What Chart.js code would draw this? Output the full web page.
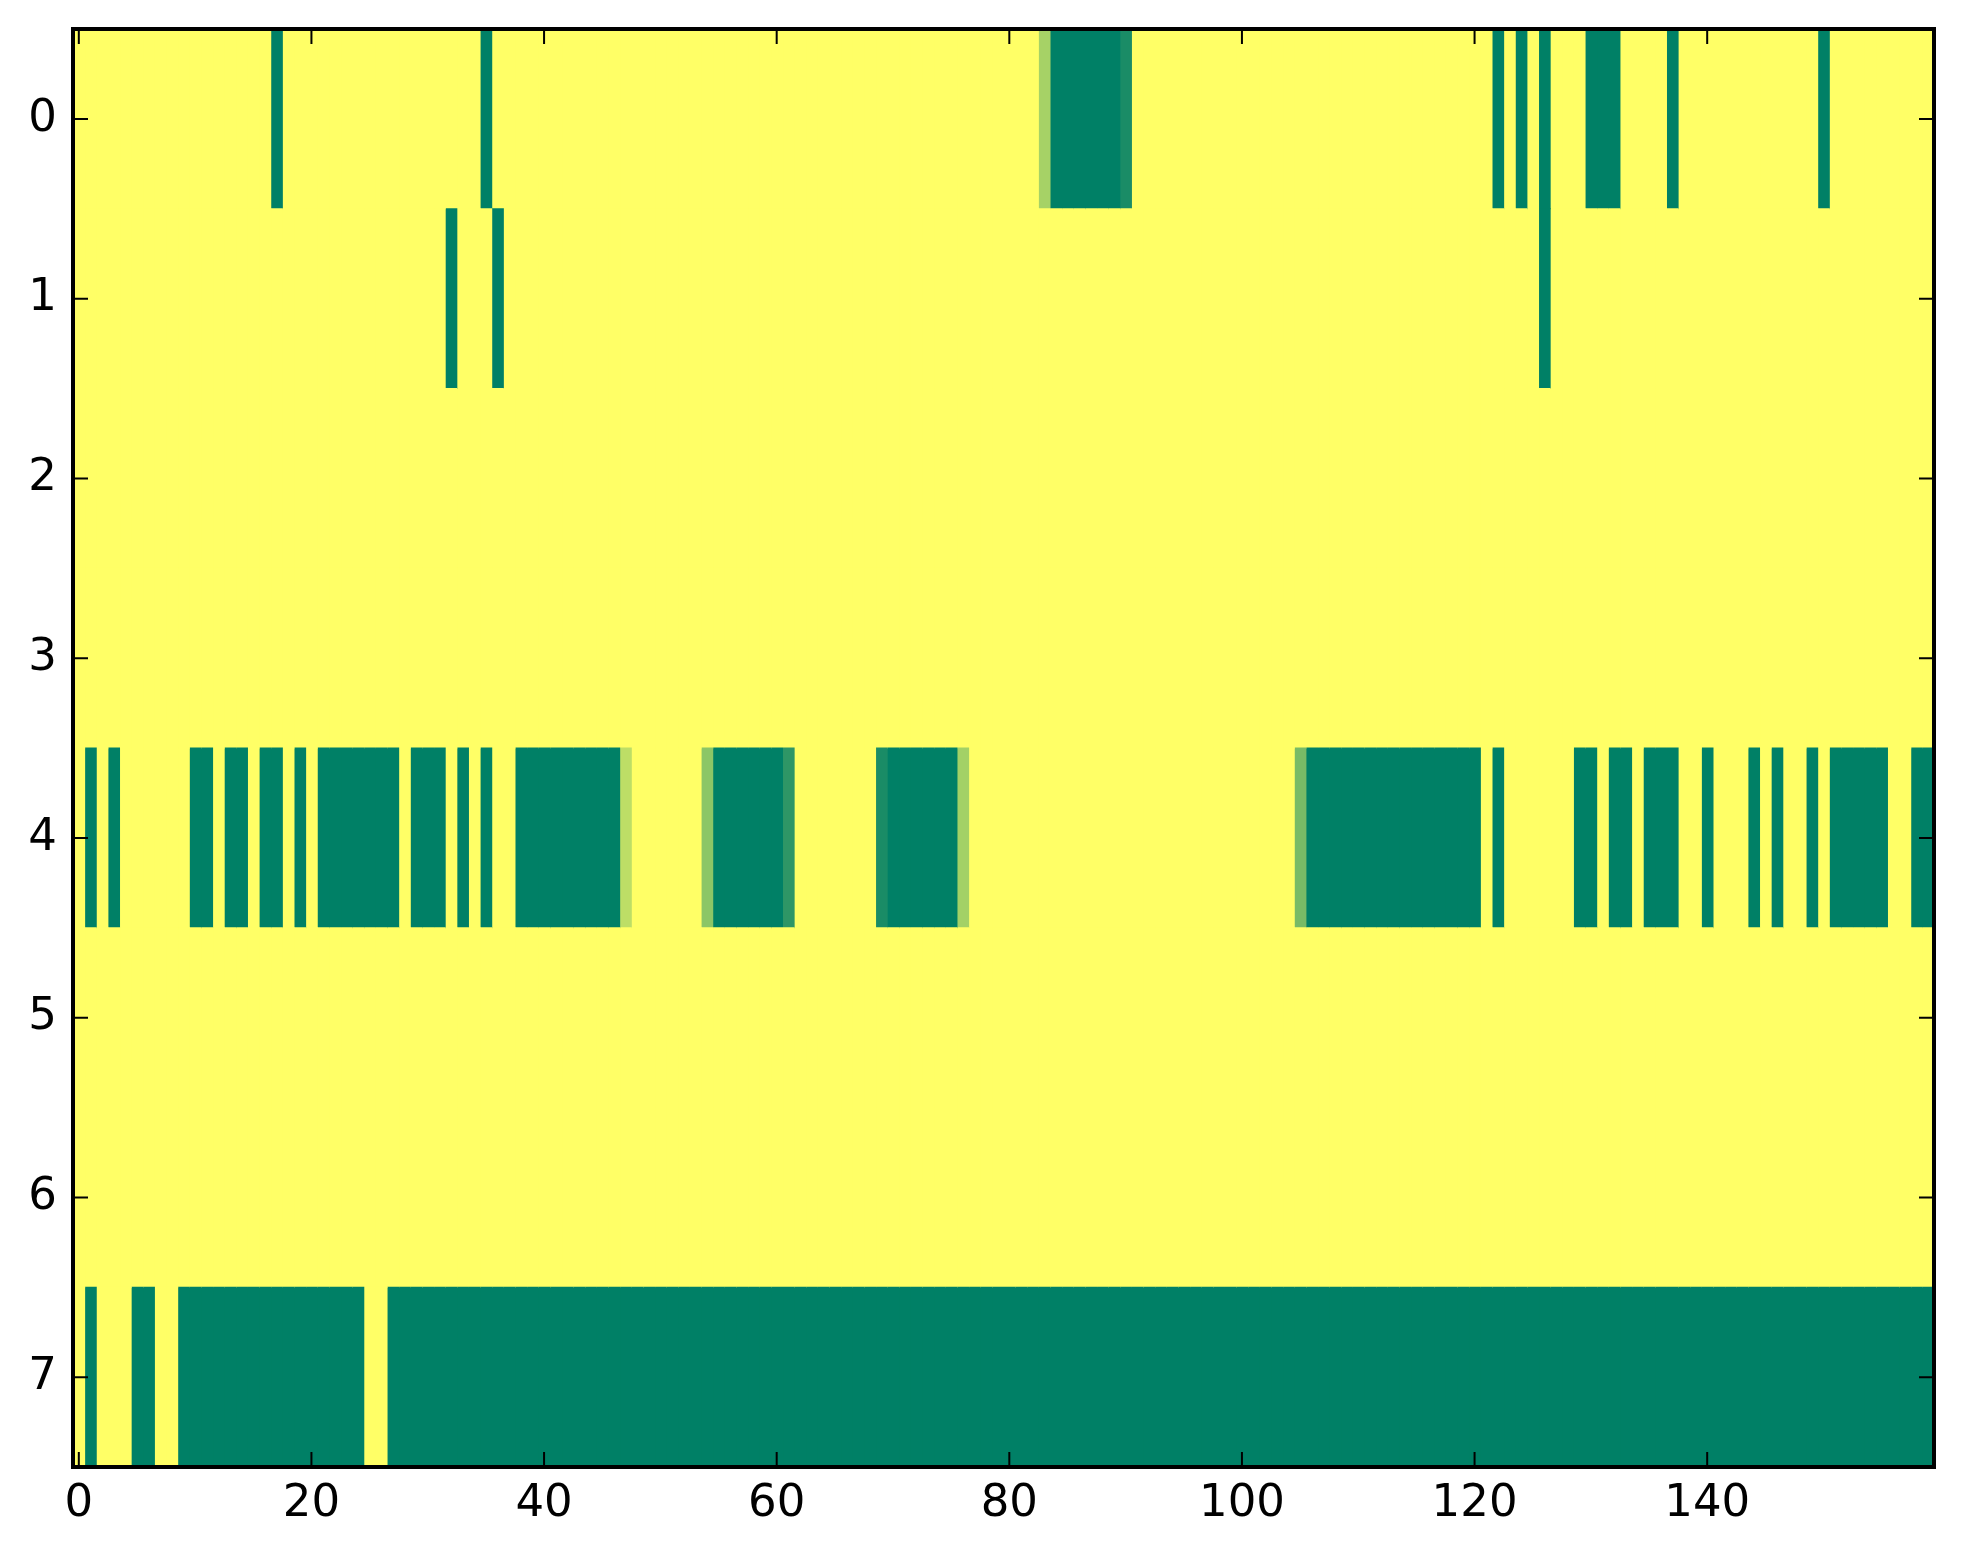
<!DOCTYPE html>
<html lang="en">
<head>
    <meta charset="UTF-8">
    <title>Heatmap</title>
    <script src="https://cdn.jsdelivr.net/npm/chart.js"></script>
    <style>
        body { margin: 0; background: #fff; }
        #wrap { width: 1963px; height: 1564px; }
    </style>
</head>
<body>
    <div id="wrap"><canvas id="heatmap"></canvas></div>

    <script>
        // Cell values, 8 rows x 160 columns (0 = green, 1 = yellow)
        const row0 = [
            1,1,1,1,1,1,1,1,1,1,1,1,1,1,1,1,1,0,1,1,
            1,1,1,1,1,1,1,1,1,1,1,1,1,1,1,0,1,1,1,1,
            1,1,1,1,1,1,1,1,1,1,1,1,1,1,1,1,1,1,1,1,
            1,1,1,1,1,1,1,1,1,1,1,1,1,1,1,1,1,1,1,1,
            1,1,1,0.65,0,0,0,0,0,0,0.1,1,1,1,1,1,1,1,1,1,
            1,1,1,1,1,1,1,1,1,1,1,1,1,1,1,1,1,1,1,1,
            1,1,0,1,0,1,0,1,1,1,0,0,0,1,1,1,1,0,1,1,
            1,1,1,1,1,1,1,1,1,1,0,1,1,1,1,1,1,1,1,1
        ];
        const row1 = [
            1,1,1,1,1,1,1,1,1,1,1,1,1,1,1,1,1,1,1,1,
            1,1,1,1,1,1,1,1,1,1,1,1,0,1,1,1,0,1,1,1,
            1,1,1,1,1,1,1,1,1,1,1,1,1,1,1,1,1,1,1,1,
            1,1,1,1,1,1,1,1,1,1,1,1,1,1,1,1,1,1,1,1,
            1,1,1,1,1,1,1,1,1,1,1,1,1,1,1,1,1,1,1,1,
            1,1,1,1,1,1,1,1,1,1,1,1,1,1,1,1,1,1,1,1,
            1,1,1,1,1,1,0,1,1,1,1,1,1,1,1,1,1,1,1,1,
            1,1,1,1,1,1,1,1,1,1,1,1,1,1,1,1,1,1,1,1
        ];
        const row2 = [
            1,1,1,1,1,1,1,1,1,1,1,1,1,1,1,1,1,1,1,1,
            1,1,1,1,1,1,1,1,1,1,1,1,1,1,1,1,1,1,1,1,
            1,1,1,1,1,1,1,1,1,1,1,1,1,1,1,1,1,1,1,1,
            1,1,1,1,1,1,1,1,1,1,1,1,1,1,1,1,1,1,1,1,
            1,1,1,1,1,1,1,1,1,1,1,1,1,1,1,1,1,1,1,1,
            1,1,1,1,1,1,1,1,1,1,1,1,1,1,1,1,1,1,1,1,
            1,1,1,1,1,1,1,1,1,1,1,1,1,1,1,1,1,1,1,1,
            1,1,1,1,1,1,1,1,1,1,1,1,1,1,1,1,1,1,1,1
        ];
        const row3 = [
            1,1,1,1,1,1,1,1,1,1,1,1,1,1,1,1,1,1,1,1,
            1,1,1,1,1,1,1,1,1,1,1,1,1,1,1,1,1,1,1,1,
            1,1,1,1,1,1,1,1,1,1,1,1,1,1,1,1,1,1,1,1,
            1,1,1,1,1,1,1,1,1,1,1,1,1,1,1,1,1,1,1,1,
            1,1,1,1,1,1,1,1,1,1,1,1,1,1,1,1,1,1,1,1,
            1,1,1,1,1,1,1,1,1,1,1,1,1,1,1,1,1,1,1,1,
            1,1,1,1,1,1,1,1,1,1,1,1,1,1,1,1,1,1,1,1,
            1,1,1,1,1,1,1,1,1,1,1,1,1,1,1,1,1,1,1,1
        ];
        const row4 = [
            1,0,1,0,1,1,1,1,1,1,0,0,1,0,0,1,0,0,1,0,
            1,0,0,0,0,0,0,0,1,0,0,0,1,0,1,0,1,1,0,0,
            0,0,0,0,0,0,0,0.74,1,1,1,1,1,1,0.55,0,0,0,0,0,
            0,0.18,1,1,1,1,1,1,1,0.1,0,0,0,0,0,0,0.64,1,1,1,
            1,1,1,1,1,1,1,1,1,1,1,1,1,1,1,1,1,1,1,1,
            1,1,1,1,1,0.47,0,0,0,0,0,0,0,0,0,0,0,0,0,0,
            0,1,0,1,1,1,1,1,1,0,0,1,0,0,1,0,0,0,1,1,
            0,1,1,1,0,1,0,1,1,0,1,0,0,0,0,0,1,1,0,0
        ];
        const row5 = [
            1,1,1,1,1,1,1,1,1,1,1,1,1,1,1,1,1,1,1,1,
            1,1,1,1,1,1,1,1,1,1,1,1,1,1,1,1,1,1,1,1,
            1,1,1,1,1,1,1,1,1,1,1,1,1,1,1,1,1,1,1,1,
            1,1,1,1,1,1,1,1,1,1,1,1,1,1,1,1,1,1,1,1,
            1,1,1,1,1,1,1,1,1,1,1,1,1,1,1,1,1,1,1,1,
            1,1,1,1,1,1,1,1,1,1,1,1,1,1,1,1,1,1,1,1,
            1,1,1,1,1,1,1,1,1,1,1,1,1,1,1,1,1,1,1,1,
            1,1,1,1,1,1,1,1,1,1,1,1,1,1,1,1,1,1,1,1
        ];
        const row6 = [
            1,1,1,1,1,1,1,1,1,1,1,1,1,1,1,1,1,1,1,1,
            1,1,1,1,1,1,1,1,1,1,1,1,1,1,1,1,1,1,1,1,
            1,1,1,1,1,1,1,1,1,1,1,1,1,1,1,1,1,1,1,1,
            1,1,1,1,1,1,1,1,1,1,1,1,1,1,1,1,1,1,1,1,
            1,1,1,1,1,1,1,1,1,1,1,1,1,1,1,1,1,1,1,1,
            1,1,1,1,1,1,1,1,1,1,1,1,1,1,1,1,1,1,1,1,
            1,1,1,1,1,1,1,1,1,1,1,1,1,1,1,1,1,1,1,1,
            1,1,1,1,1,1,1,1,1,1,1,1,1,1,1,1,1,1,1,1
        ];
        const row7 = [
            1,0,1,1,1,0,0,1,1,0,0,0,0,0,0,0,0,0,0,0,
            0,0,0,0,0,1,1,0,0,0,0,0,0,0,0,0,0,0,0,0,
            0,0,0,0,0,0,0,0,0,0,0,0,0,0,0,0,0,0,0,0,
            0,0,0,0,0,0,0,0,0,0,0,0,0,0,0,0,0,0,0,0,
            0,0,0,0,0,0,0,0,0,0,0,0,0,0,0,0,0,0,0,0,
            0,0,0,0,0,0,0,0,0,0,0,0,0,0,0,0,0,0,0,0,
            0,0,0,0,0,0,0,0,0,0,0,0,0,0,0,0,0,0,0,0,
            0,0,0,0,0,0,0,0,0,0,0,0,0,0,0,0,0,0,0,0
        ];

        const rows = [row0, row1, row2, row3, row4, row5, row6, row7];
        const rowLabels = ['0', '1', '2', '3', '4', '5', '6', '7'];
        const xTicks = [0, 20, 40, 60, 80, 100, 120, 140];

        // matplotlib "summer" colormap
        function summer(v) {
            return `rgb(${Math.round(255 * v)}, ${Math.round(127.5 + 127.5 * v)}, 102)`;
        }

        // one dataset per column, a floating bar per row
        const nCols = row0.length;
        const datasets = [];
        for (let c = 0; c < nCols; c++) {
            datasets.push({
                data: rows.map(() => [c - 0.5, c + 0.5]),
                backgroundColor: rows.map(r => summer(r[c])),
                borderWidth: 0,
                inflateAmount: 0.5,
                barPercentage: 1,
                categoryPercentage: 1,
                grouped: false
            });
        }

        // black frame with inward ticks on all four sides
        const framePlugin = {
            id: 'frame',
            afterDraw(chart) {
                const { ctx, chartArea: a, scales } = chart;
                const len = 15;
                ctx.save();
                ctx.strokeStyle = '#000';
                ctx.lineWidth = 2;
                ctx.beginPath();
                scales.y.ticks.forEach((t, i) => {
                    const y = scales.y.getPixelForTick(i);
                    ctx.moveTo(a.left, y); ctx.lineTo(a.left + len, y);
                    ctx.moveTo(a.right, y); ctx.lineTo(a.right - len, y);
                });
                scales.x.ticks.forEach(t => {
                    const x = scales.x.getPixelForValue(t.value);
                    ctx.moveTo(x, a.bottom); ctx.lineTo(x, a.bottom - len);
                    ctx.moveTo(x, a.top); ctx.lineTo(x, a.top + len);
                });
                ctx.stroke();
                ctx.lineWidth = 4;
                ctx.strokeRect(a.left, a.top, a.right - a.left, a.bottom - a.top);
                ctx.restore();
            }
        };

        const tickFont = { family: 'DejaVu Sans', size: 45 };

        new Chart(document.getElementById('heatmap'), {
            type: 'bar',
            data: { labels: rowLabels, datasets: datasets },
            options: {
                indexAxis: 'y',
                responsive: true,
                maintainAspectRatio: false,
                animation: false,
                layout: { padding: { top: 29, right: 29, left: 0, bottom: 0 } },
                plugins: { legend: { display: false }, tooltip: { enabled: false } },
                scales: {
                    y: {
                        type: 'category',
                        offset: true,
                        grid: { display: false },
                        border: { display: false },
                        ticks: { color: '#000', font: tickFont, padding: 8 },
                        afterFit: s => {
                            s.width = 73;
                            s.paddingTop = 0;
                            s.paddingBottom = 0;
                        }
                    },
                    x: {
                        type: 'linear',
                        min: -0.5,
                        max: 159.5,
                        grid: { display: false },
                        border: { display: false },
                        ticks: { color: '#000', font: tickFont, padding: 2, maxRotation: 0 },
                        afterBuildTicks: s => { s.ticks = xTicks.map(v => ({ value: v })); },
                        afterFit: s => {
                            s.height = 97;
                            s.paddingLeft = 0;
                            s.paddingRight = 0;
                        }
                    }
                }
            },
            plugins: [framePlugin]
        });
    </script>
</body>
</html>
